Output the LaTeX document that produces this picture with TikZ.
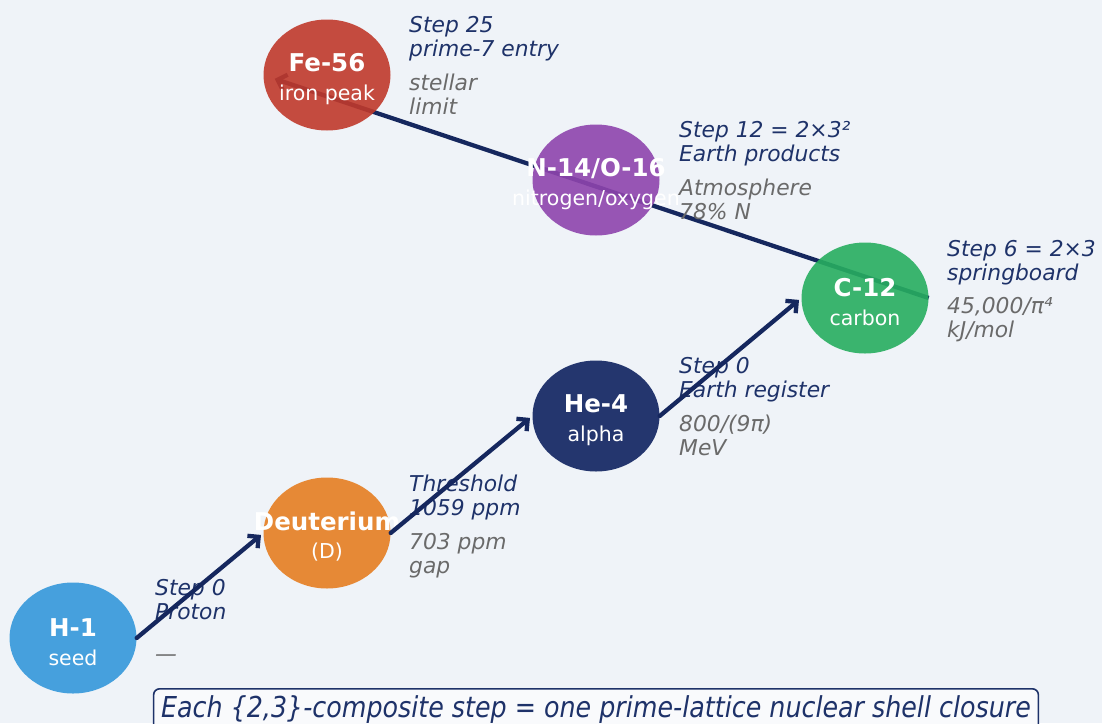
\documentclass[tikz,border=0pt]{standalone}
\usepackage{fontspec}
\setmainfont{DejaVu Sans}
\newfontfamily\condfont[FakeStretch=0.88]{DejaVu Sans}
\usetikzlibrary{shapes.geometric,arrows.meta,backgrounds}
\definecolor{bgcol}{HTML}{EFF3F8}
\definecolor{navy}{HTML}{1E3269}
\definecolor{linecol}{HTML}{15275E}
\definecolor{notecol}{HTML}{6A6A6A}
\definecolor{hcol}{HTML}{3498DB}
\definecolor{dcol}{HTML}{E67E22}
\definecolor{hecol}{HTML}{0F2260}
\definecolor{ccol}{HTML}{27AE60}
\definecolor{ncol}{HTML}{8E44AD}
\definecolor{fecol}{HTML}{C0392B}
\newcommand{\isolabel}[2]{\makebox[0pt]{\rule{0pt}{26pt}\fontsize{24.5}{28}\selectfont\bfseries #1}\\\makebox[0pt]{#2}}
\begin{document}
\begin{tikzpicture}[x=1pt, y=-1pt, every node/.style={align=left, inner sep=0pt},
  line cap=round]
	\tikzstyle{iso} = [ellipse, align=center, minimum width=127pt, minimum height=111pt,
	  fill opacity=0.9, text opacity=1, text=white, font=\fontsize{20.5}{28.5}\selectfont]
	\tikzstyle{steplabel} = [anchor=north west, text=navy, font=\fontsize{21.8}{24}\selectfont\itshape]
	\tikzstyle{notelabel} = [anchor=north west, text=notecol, font=\fontsize{21.8}{24}\selectfont\itshape]
	\tikzstyle{flow} = [draw=linecol, line width=4.3pt, -{Straight Barb[length=8pt,width=16pt]}, shorten >=3pt]
	\useasboundingbox (0,0) rectangle (1102,723);
	% isotopes
	\node[iso, fill=hcol] (h1) at (73,638) {\isolabel{H-1}{seed}};
	\node[iso, fill=dcol] (d2) at (327,533) {\isolabel{Deuterium}{(D)}};
	\node[iso, fill=hecol] (he4) at (596,416) {\isolabel{He-4}{alpha}};
	\node[iso, fill=ccol] (c12) at (865,298) {\isolabel{C-12}{carbon}};
	\node[iso, fill=ncol] (n14) at (596,180) {\isolabel{N-14/O-16}{nitrogen/oxygen}};
	\node[iso, fill=fecol] (fe56) at (327,75) {\isolabel{Fe-56}{iron peak}};
	% side labels
	\node[steplabel] (h1-step) at (155,579) {Step 0\\Proton};
	\node[notelabel, anchor=west] (h1-note) at (155,658) {---};
	\node[steplabel] (d2-step) at (409,475) {Threshold\\1059 ppm};
	\node[notelabel] (d2-note) at (409,533) {703 ppm\\gap};
	\node[steplabel] (he4-step) at (679,357) {Step 0\\Earth register};
	\node[notelabel] (he4-note) at (679,415) {800/(9π)\\MeV};
	\node[steplabel] (c12-step) at (947,240) {Step 6 = 2×3\\springboard};
	\node[notelabel] (c12-note) at (947,297) {45,000/π⁴\\kJ/mol};
	\node[steplabel] (n14-step) at (679,121) {Step 12 = 2×3²\\Earth products};
	\node[notelabel] (n14-note) at (679,179) {Atmosphere\\78\% N};
	\node[steplabel] (fe56-step) at (409,16) {Step 25\\prime-7 entry};
	\node[notelabel] (fe56-note) at (409,74) {stellar\\limit};
	% chain
	\draw[flow] (h1.east) -- (d2.west);
	\draw[flow] (d2.east) -- (he4.west);
	\draw[flow] (he4.east) -- (c12.west);
	\begin{pgfonlayer}{background}
	\fill[bgcol] (0,0) rectangle (1102,723);
	\draw[flow, shorten >=12pt] (c12.east) -- (fe56.west);
	\end{pgfonlayer}
	% caption
	\node[anchor=north, draw=navy, line width=1.6pt, rounded corners=6pt, fill=white!60!bgcol,
	  inner xsep=7.5pt, inner ysep=6pt, text height=23pt, text depth=30pt, text=navy,
	  font=\condfont\fontsize{28.8}{32}\selectfont\itshape] (caption) at (596,688)
	  {Each \{2,3\}-composite step = one prime-lattice nuclear shell closure};
\end{tikzpicture}
\end{document}
